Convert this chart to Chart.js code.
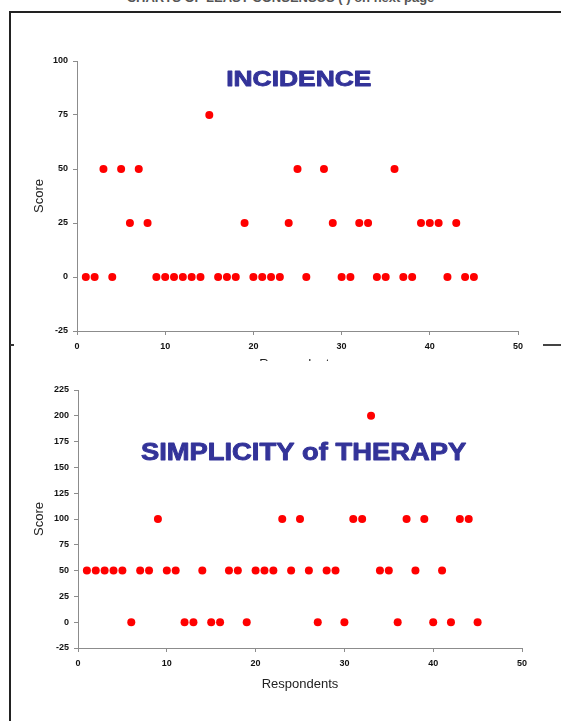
<!DOCTYPE html>
<html>
<head>
<meta charset="utf-8">
<script src="https://cdn.jsdelivr.net/npm/chart.js@4/dist/chart.umd.min.js"></script>
<style>
    html, body { margin: 0; padding: 0; background: #fff; }
    body { width: 561px; height: 721px; position: relative; overflow: hidden; font-family: "Liberation Sans", Arial, sans-serif; }
    #pageHead { position: absolute; left: 0; top: -10px; width: 561px; text-align: center; font-size: 13px; font-weight: bold; color: #555; white-space: nowrap; }
    #frame { position: absolute; left: 9px; top: 11px; width: 560px; height: 720px; border-left: 2px solid #222; border-top: 2px solid #222; z-index: 3; }
    #leftNotch { position: absolute; left: 10px; top: 344px; width: 4px; height: 2px; background: #333; z-index: 3; }
    #rightDash { position: absolute; left: 543px; top: 344px; width: 18px; height: 2px; background: #444; z-index: 3; }
    #box1 { position: absolute; left: 0; top: 0; width: 561px; height: 373px; z-index: 1; }
    #box2 { position: absolute; left: 0; top: 361px; width: 561px; height: 360px; background: #fff; z-index: 2; }
</style>
</head>
<body>
<div id="pageHead">CHARTS OF LEAST CONSENSUS ( ) on next page</div>
<div id="frame"></div>
<div id="leftNotch"></div>
<div id="rightDash"></div>
<div id="box1"><canvas id="incidenceGraph"></canvas></div>
<div id="box2"><canvas id="simplicityGraph"></canvas></div>
<script>
const respondents = [1, 2, 3, 4, 5, 6, 7, 8, 9, 10, 11, 12, 13, 14, 15, 16, 17, 18, 19, 20, 21, 22, 23,
    24, 25, 26, 27, 28, 29, 30, 31, 32, 33, 34, 35, 36, 37, 38, 39, 40, 41, 42, 43, 44, 45];

// respondent 27 has no incidence score in the picture
const incidenceScores = [0, 0, 50, 0, 50, 25, 50, 25, 0, 0, 0, 0, 0, 0, 75, 0, 0, 0, 25, 0, 0, 0, 0,
    25, 50, 0, null, 50, 25, 0, 0, 25, 25, 0, 0, 50, 0, 0, 25, 25, 25, 0, 25, 0, 0];

const simplicityScores = [50, 50, 50, 50, 50, 0, 50, 50, 100, 50, 50, 0, 0, 50, 0, 0, 50, 50, 0, 50, 50, 50, 100,
    50, 100, 50, 0, 50, 50, 0, 100, 100, 200, 50, 50, 0, 100, 50, 100, 0, 50, 0, 100, 100, 0];

const xTicks = [0, 10, 20, 30, 40, 50];
const incidenceTicks = [-25, 0, 25, 50, 75, 100];
const simplicityTicks = [-25, 0, 25, 50, 75, 100, 125, 150, 175, 200, 225];

const pointRed = 'rgb(255, 0, 0)';
const titleBlue = 'rgb(51, 51, 153)';
const axisGrey = 'rgb(140, 140, 140)';

Chart.defaults.font.family = '"Liberation Sans", Arial, sans-serif';
Chart.defaults.color = '#111';

// big blue caption sitting inside the plot area
const insideTitle = {
    id: 'insideTitle',
    afterDraw(chart, args, opts) {
        const { ctx, chartArea } = chart;
        ctx.save();
        ctx.font = `bold ${opts.size}px "Liberation Sans", Arial, sans-serif`;
        ctx.fillStyle = opts.color;
        ctx.strokeStyle = opts.color;
        ctx.lineWidth = 0.9;
        ctx.lineJoin = 'round';
        ctx.textAlign = 'center';
        ctx.textBaseline = 'middle';
        ctx.translate(chartArea.left + chartArea.width * opts.xFrac, chartArea.top + opts.yOffset);
        ctx.scale(opts.stretch, 1);
        ctx.fillText(opts.text, 0, 0);
        ctx.strokeText(opts.text, 0, 0);
        ctx.restore();
    },
};

const toPoints = (scores) => {
    let pts = [];
    for (let i = 0; i < respondents.length; i++) {
        if (scores[i] !== null) pts.push({ x: respondents[i], y: scores[i] });
    }
    return pts;
};

const makeConfig = (scores, yTicks, caption, box) => ({
    type: 'scatter',
    data: {
        datasets: [
            {
                label: 'Score',
                data: toPoints(scores),
                backgroundColor: pointRed,
                borderColor: pointRed,
                borderWidth: 0,
                pointRadius: 4,
                pointHoverRadius: 4,
            },
        ],
    },
    options: {
        responsive: true,
        maintainAspectRatio: false,
        animation: false,
        layout: { padding: box.padding },
        plugins: {
            legend: { display: false },
            tooltip: { enabled: false },
            insideTitle: caption,
        },
        scales: {
            x: {
                type: 'linear',
                min: xTicks[0],
                max: xTicks[xTicks.length - 1],
                afterBuildTicks: (scale) => {
                    scale.ticks = xTicks.map((v) => ({ value: v }));
                },
                afterFit: (scale) => {
                    scale.height = box.xHeight;
                },
                ticks: { font: { size: 9, weight: 'bold' }, padding: 6, maxRotation: 0 },
                grid: { drawOnChartArea: false, drawTicks: true, tickLength: 4, color: axisGrey },
                border: { display: true, color: axisGrey, width: 1 },
                title: {
                    display: true,
                    text: 'Respondents',
                    font: { size: 13 },
                    color: '#222',
                    padding: { top: 0, bottom: box.xTitlePad },
                },
            },
            y: {
                type: 'linear',
                min: yTicks[0],
                max: yTicks[yTicks.length - 1],
                afterBuildTicks: (scale) => {
                    scale.ticks = yTicks.map((v) => ({ value: v }));
                },
                afterFit: (scale) => {
                    scale.width = box.yWidth;
                },
                ticks: { font: { size: 9, weight: 'bold' }, padding: 5 },
                grid: { drawOnChartArea: false, drawTicks: true, tickLength: 4, color: axisGrey },
                border: { display: true, color: axisGrey, width: 1 },
                title: {
                    display: true,
                    text: 'Score',
                    font: { size: 13 },
                    color: '#222',
                    padding: { top: box.yTitlePad, bottom: 0 },
                },
            },
        },
    },
    plugins: [insideTitle],
});

let incidenceCtx = document.getElementById('incidenceGraph').getContext('2d');
let simplicityCtx = document.getElementById('simplicityGraph').getContext('2d');

let incidenceChart = new Chart(
    incidenceCtx,
    makeConfig(
        incidenceScores,
        incidenceTicks,
        { text: 'INCIDENCE', size: 22, stretch: 1.2, color: titleBlue, xFrac: 0.503, yOffset: 19 },
        { padding: { top: 61, right: 43, bottom: 0, left: 0 }, xHeight: 42, yWidth: 77, xTitlePad: 1, yTitlePad: 32 }
    )
);

let simplicityChart = new Chart(
    simplicityCtx,
    makeConfig(
        simplicityScores,
        simplicityTicks,
        { text: 'SIMPLICITY of THERAPY', size: 24, stretch: 1.14, color: titleBlue, xFrac: 0.508, yOffset: 63 },
        { padding: { top: 29, right: 39, bottom: 0, left: 0 }, xHeight: 73, yWidth: 78, xTitlePad: 29, yTitlePad: 32 }
    )
);
</script>
</body>
</html>
